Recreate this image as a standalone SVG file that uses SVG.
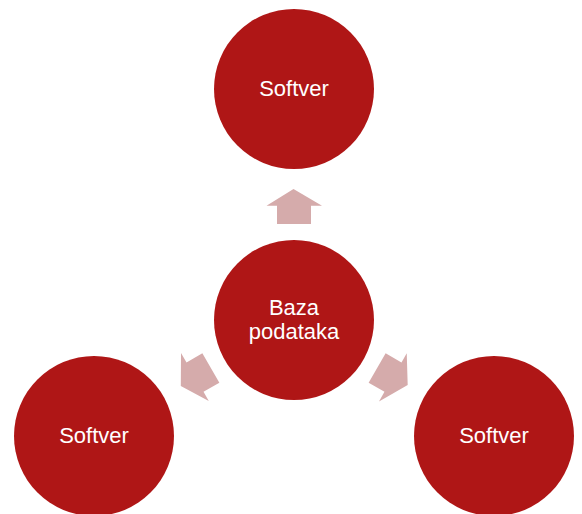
<svg xmlns="http://www.w3.org/2000/svg" width="582" height="514" viewBox="0 0 582 514">
<defs>
<style>
.node{fill:#AF1616;}
.lbl{fill:#FFFFFF;font-family:"Liberation Sans",Arial,sans-serif;font-size:22px;text-anchor:middle;}
.arr{fill:#D5ABAB;}
</style>
<polygon id="upArrow" points="293.5,189 322,205.7 311,205.7 311,224 277,224 277,205.7 266.5,205.7"/>
</defs>
<rect width="582" height="514" fill="#FFFFFF"/>
<g id="connectors">
<use href="#upArrow" class="arr"/>
<use href="#upArrow" class="arr" transform="rotate(120 294 320)"/>
<use href="#upArrow" class="arr" transform="rotate(-120 294 320)"/>
</g>
<g id="top">
<circle class="node" cx="294" cy="89" r="80"/>
<text class="lbl" x="294" y="96">Softver</text>
</g>
<g id="center">
<circle class="node" cx="294" cy="320" r="80"/>
<text class="lbl" x="294" y="315">Baza</text>
<text class="lbl" x="294" y="339">podataka</text>
</g>
<g id="left">
<circle class="node" cx="94" cy="436" r="80"/>
<text class="lbl" x="94" y="443">Softver</text>
</g>
<g id="right">
<circle class="node" cx="494" cy="436" r="80"/>
<text class="lbl" x="494" y="443">Softver</text>
</g>
</svg>
